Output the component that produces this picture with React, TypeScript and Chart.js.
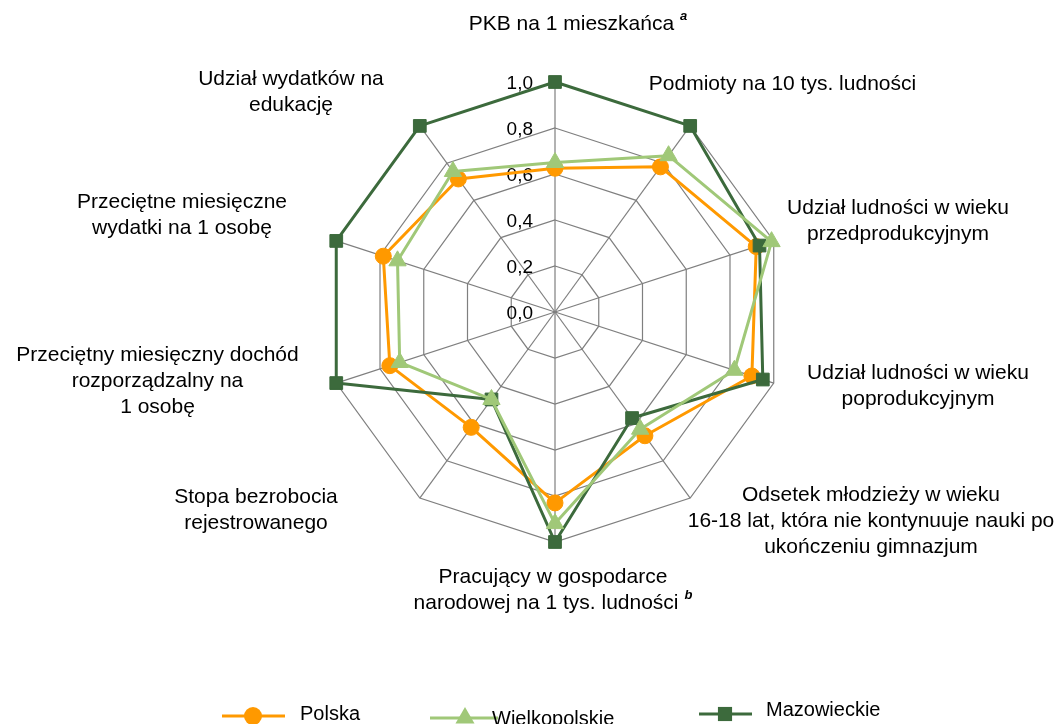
import React, { useEffect, useRef } from "react";
import { Chart, registerables } from "chart.js";

Chart.register(...registerables);

// ---------- data ----------
const categoryLines: string[][] = [
  ["PKB na 1 mieszkańca"],
  ["Podmioty na 10 tys. ludności"],
  ["Udział ludności w wieku", "przedprodukcyjnym"],
  ["Udział ludności w wieku", "poprodukcyjnym"],
  ["Odsetek młodzieży w wieku", "16-18 lat, która nie kontynuuje nauki po", "ukończeniu gimnazjum"],
  ["Pracujący w gospodarce", "narodowej na 1 tys. ludności"],
  ["Stopa bezrobocia", "rejestrowanego"],
  ["Przeciętny miesięczny dochód", "rozporządzalny na", "1 osobę"],
  ["Przeciętne miesięczne", "wydatki na 1 osobę"],
  ["Udział wydatków na", "edukację"],
];
const categorySup: string[] = ["a", "", "", "", "", "b", "", "", "", ""];

const seriesNames = ["Polska", "Wielkopolskie", "Mazowieckie"];
const polska = [0.625, 0.78, 0.92, 0.9, 0.665, 0.83, 0.62, 0.755, 0.785, 0.715];
const wielkopolskie = [0.65, 0.84, 0.99, 0.82, 0.63, 0.92, 0.47, 0.71, 0.72, 0.755];
const mazowieckie = [1.0, 1.0, 0.935, 0.95, 0.57, 1.0, 0.47, 1.0, 1.0, 1.0];

const tickValues = [0, 0.2, 0.4, 0.6, 0.8, 1.0];
const tickLabels = ["0,0", "0,2", "0,4", "0,6", "0,8", "1,0"];

// ---------- styles / layout ----------
const FONT = '"Liberation Sans", Arial, sans-serif';
const ORANGE = "#FF9900";
const LIGHT = "#A0C878";
const DARK = "#3C6A3C";
const GRID = "#7F7F7F";
const colors = [ORANGE, LIGHT, DARK];
const markerStyles = ["circle", "triangle", "rect"];
const markerRadius = [8, 10, 9];

// block-centre offsets of the category labels relative to the radar centre
const labelOffsets: [number, number][] = [
  [23, -287.5],
  [227.5, -228],
  [343, -91],
  [363, 74],
  [316, 209.5],
  [-2, 278.5],
  [-299, 198],
  [-397.5, 69.5],
  [-373, -96.5],
  [-264, -220],
];
const LINE_H = 26;

// legend layout: [lineStart, lineEnd, markerX, y, textX, textY]
const legendLayout = [
  [222, 285, 253, 716, 300, 714],
  [430, 498, 465, 718, 492, 719],
  [699, 752, 725, 714, 766, 710],
];

function drawMarker(ctx: CanvasRenderingContext2D, style: string, x: number, y: number, r: number, color: string) {
  ctx.fillStyle = color;
  ctx.beginPath();
  if (style === "circle") {
    ctx.arc(x, y, r, 0, Math.PI * 2);
  } else if (style === "triangle") {
    for (let k = 0; k < 3; k++) {
      const a = (k * 2 * Math.PI) / 3;
      const px = x + Math.sin(a) * r;
      const py = y - Math.cos(a) * r;
      if (k === 0) ctx.moveTo(px, py);
      else ctx.lineTo(px, py);
    }
    ctx.closePath();
  } else {
    const s = Math.SQRT1_2 * r;
    ctx.rect(x - s, y - s, 2 * s, 2 * s);
  }
  ctx.fill();
}

const radarDecor = {
  id: "radarDecor",
  beforeDatasetsDraw(chart: any) {
    const scale = chart.scales.r;
    const ctx: CanvasRenderingContext2D = chart.ctx;
    ctx.save();
    ctx.font = `19px ${FONT}`;
    ctx.fillStyle = "#000";
    ctx.textAlign = "right";
    ctx.textBaseline = "middle";
    tickValues.forEach((v, i) => {
      const d = scale.getDistanceFromCenterForValue(v);
      ctx.fillText(tickLabels[i], scale.xCenter - 22, scale.yCenter - d + 2);
    });
    ctx.restore();
  },
  afterDraw(chart: any) {
    const scale = chart.scales.r;
    const ctx: CanvasRenderingContext2D = chart.ctx;
    const cx = scale.xCenter;
    const cy = scale.yCenter;
    ctx.save();
    ctx.fillStyle = "#000";
    ctx.textBaseline = "middle";
    ctx.textAlign = "left";
    const mainFont = `21px ${FONT}`;
    const supFont = `italic bold 13px ${FONT}`;
    categoryLines.forEach((lines, i) => {
      const [dx, dy] = labelOffsets[i];
      const bx = cx + dx;
      const top = cy + dy - ((lines.length - 1) * LINE_H) / 2;
      lines.forEach((line, j) => {
        const y = top + j * LINE_H;
        const isLast = j === lines.length - 1;
        const sup = isLast ? categorySup[i] : "";
        ctx.font = mainFont;
        const w = ctx.measureText(line).width;
        let total = w;
        let supW = 0;
        if (sup) {
          ctx.font = supFont;
          supW = ctx.measureText(sup).width;
          total += 6 + supW;
        }
        const x0 = bx - total / 2;
        ctx.font = mainFont;
        ctx.fillText(line, x0, y);
        if (sup) {
          ctx.font = supFont;
          ctx.fillText(sup, x0 + w + 6, y - 8);
        }
      });
    });

    // legend
    seriesNames.forEach((name, i) => {
      const [l0, l1, mx, my, tx, ty] = legendLayout[i];
      ctx.strokeStyle = colors[i];
      ctx.lineWidth = 3;
      ctx.beginPath();
      ctx.moveTo(l0, my);
      ctx.lineTo(l1, my);
      ctx.stroke();
      drawMarker(ctx, markerStyles[i], mx, my, markerRadius[i] + 1, colors[i]);
      ctx.fillStyle = "#000";
      ctx.font = `20px ${FONT}`;
      ctx.textAlign = "left";
      ctx.textBaseline = "middle";
      ctx.fillText(name, tx, ty);
    });
    ctx.restore();
  },
};

export default function App() {
  const ref = useRef<HTMLCanvasElement>(null);

  useEffect(() => {
    if (!ref.current) return;
    const series = [polska, wielkopolskie, mazowieckie];
    const orders = [2, 0, 1];
    const chart = new Chart(ref.current, {
      type: "radar",
      data: {
        labels: categoryLines.map((l) => l.join(" ")),
        datasets: series.map((data, i) => ({
          label: seriesNames[i],
          data,
          borderColor: colors[i],
          backgroundColor: colors[i],
          borderWidth: 3,
          borderJoinStyle: "round" as const,
          fill: false,
          pointStyle: markerStyles[i] as any,
          pointRadius: markerRadius[i],
          pointBackgroundColor: colors[i],
          pointBorderColor: colors[i],
          pointBorderWidth: 1,
          order: orders[i],
        })),
      },
      options: {
        animation: false,
        responsive: true,
        maintainAspectRatio: false,
        layout: { padding: { left: 325, right: 275, top: 82, bottom: 182 } },
        elements: { line: { tension: 0 } },
        plugins: {
          legend: { display: false },
          tooltip: { enabled: false },
        },
        scales: {
          r: {
            min: 0,
            max: 1,
            ticks: { display: false, stepSize: 0.2 },
            grid: { color: GRID, lineWidth: 1.2 },
            angleLines: { color: GRID, lineWidth: 1.2 },
            pointLabels: { display: false },
          },
        },
      },
      plugins: [radarDecor],
    });
    return () => chart.destroy();
  }, []);

  return (
    <div style={{ position: "fixed", left: 0, top: 0, width: 1060, height: 724, background: "#fff" }}>
      <canvas ref={ref} />
    </div>
  );
}
